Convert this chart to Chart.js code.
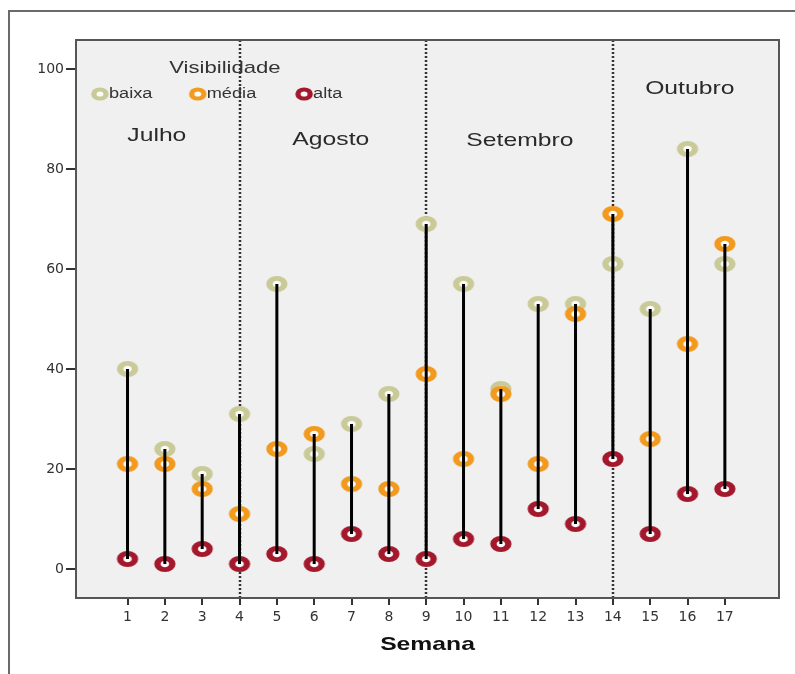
<!DOCTYPE html>
<html><head><meta charset="utf-8">
<script src="https://cdn.jsdelivr.net/npm/chart.js@4.4.1/dist/chart.umd.min.js"></script>
<style>
html,body{margin:0;padding:0;background:#fff;}
#wrap{position:relative;width:795px;height:674px;overflow:hidden;}
#frame{position:absolute;left:8px;top:10px;width:800px;height:700px;border-left:2px solid #6a6a6a;border-top:2px solid #6a6a6a;}
canvas{position:absolute;left:0;top:0;}
</style></head><body>
<div id="wrap"><div id="frame"></div><canvas id="c" width="795" height="674"></canvas></div>
<script>
// ---- data ----
const weeks = [1,2,3,4,5,6,7,8,9,10,11,12,13,14,15,16,17];
const baixa = [40,24,19,31,57,23,29,35,69,57,36,53,53,61,52,84,61];
const media = [21,21,16,11,24,27,17,16,39,22,35,21,51,71,26,45,65];
const alta  = [2,1,4,1,3,1,7,3,2,6,5,12,9,22,7,15,16];
const yTicks = [0,20,40,60,80,100];
const monthDividers = [4,9,14];
const monthLabels = ['Julho','Agosto','Setembro','Outubro'];
const seriesLabels = ['baixa','média','alta'];
const legendTitle = 'Visibilidade';
const xTitle = 'Semana';

// ---- styles ----
const COLORS = {baixa:'#c9ca98', media:'#f29a1e', alta:'#a3182c'};
const SX = 1.3;
const FONT = '"Liberation Sans", Arial, sans-serif';

function ring(color, r, lw){
  const c = document.createElement('canvas');
  const h = Math.ceil(2*(r+lw/2))+2;
  const w = Math.ceil(h*1.33)+2;
  c.width = w; c.height = h;
  const g = c.getContext('2d');
  g.translate(w/2, h/2);
  g.scale(1.33, 1);
  g.beginPath(); g.arc(0,0,r,0,Math.PI*2);
  g.fillStyle = '#fbfbfb'; g.fill();
  g.lineWidth = lw; g.strokeStyle = color; g.stroke();
  return c;
}
const rings = {baixa:ring(COLORS.baixa,5.6,4.8), media:ring(COLORS.media,5.6,4.8), alta:ring(COLORS.alta,5.6,4.8)};
const legendRings = {baixa:ring(COLORS.baixa,4.6,4.0), media:ring(COLORS.media,4.6,4.0), alta:ring(COLORS.alta,4.6,4.0)};

const rangeSegments = weeks.flatMap((w,i)=>[
  {x:w, y:Math.max(baixa[i],media[i],alta[i])},
  {x:w, y:Math.min(baixa[i],media[i],alta[i])},
  {x:w, y:null}
]);
const pts = arr => weeks.map((w,i)=>({x:w, y:arr[i]}));

function sText(ctx, text, x, y, font, align, color){
  ctx.save();
  ctx.translate(x,y); ctx.scale(SX,1);
  ctx.font = font; ctx.textAlign = align; ctx.textBaseline = 'middle';
  ctx.fillStyle = color; ctx.fillText(text,0,0);
  ctx.restore();
}

const decor = {
  id:'decor',
  beforeDraw(chart){
    const {ctx, chartArea:a} = chart;
    ctx.save(); ctx.fillStyle='#f0f0f0';
    ctx.fillRect(a.left,a.top,a.right-a.left,a.bottom-a.top); ctx.restore();
  },
  beforeDatasetsDraw(chart){
    const {ctx, chartArea:a, scales:{x}} = chart;
    ctx.save(); ctx.strokeStyle='#333'; ctx.lineWidth=2.5; ctx.setLineDash([2,2]);
    monthDividers.forEach(v=>{
      const px = Math.round(x.getPixelForValue(v));
      ctx.beginPath(); ctx.moveTo(px,a.top); ctx.lineTo(px,a.bottom); ctx.stroke();
    });
    ctx.restore();
    // annotations
    const o = chart.options.plugins.decor;
    const X = v=>x.getPixelForValue(v), Y = v=>chart.scales.y.getPixelForValue(v);
    sText(ctx, legendTitle, X(o.title[0]), Y(o.title[1]), '17px '+FONT, 'center', '#333');
    const keys = ['baixa','media','alta'];
    keys.forEach((k,i)=>{
      const cx = X(o.legend[i]), cy = Y(o.legendY);
      const im = legendRings[k];
      ctx.drawImage(im, cx-im.width/2, cy-im.height/2);
      sText(ctx, seriesLabels[i], cx+9, cy, '14px '+FONT, 'left', '#333');
    });
    monthLabels.forEach((m,i)=>{
      sText(ctx, m, X(o.months[i][0]), Y(o.months[i][1]), '19px '+FONT, 'center', '#2a2a2a');
    });
  },
  afterDraw(chart){
    const {ctx, chartArea:a} = chart;
    ctx.save(); ctx.strokeStyle='#555'; ctx.lineWidth=2;
    ctx.strokeRect(a.left,a.top,a.right-a.left,a.bottom-a.top);
    ctx.restore();
    sText(ctx, xTitle, (a.left+a.right)/2, 645, 'bold 19px '+FONT, 'center', '#111');
  }
};

new Chart(document.getElementById('c'), {
  type:'scatter',
  data:{datasets:[
    {label:'range', data:rangeSegments, showLine:true, spanGaps:false, borderColor:'#000', borderWidth:3, pointRadius:0, order:0},
    {label:seriesLabels[2], data:pts(alta), pointStyle:rings.alta, pointRadius:8, order:1},
    {label:seriesLabels[1], data:pts(media), pointStyle:rings.media, pointRadius:8, order:2},
    {label:seriesLabels[0], data:pts(baixa), pointStyle:rings.baixa, pointRadius:8, order:3}
  ]},
  options:{
    responsive:false, animation:false, devicePixelRatio:1,
    layout:{padding:{top:40,right:16,left:0,bottom:0}},
    plugins:{
      legend:{display:false}, tooltip:{enabled:false},
      decor:{
        title:[3.61,100.2],
        legend:[0.26,2.88,5.73], legendY:95,
        months:[[1.785,86.6],[6.445,85.8],[11.51,85.6],[16.06,96]]
      }
    },
    scales:{
      x:{type:'linear', min:-0.38, max:18.45,
        afterBuildTicks:s=>{s.ticks = weeks.map(v=>({value:v}));},
        afterFit:s=>{s.height = 76;},
        ticks:{autoSkip:false, maxRotation:0, padding:4, color:'#333', font:{family:'"DejaVu Sans"', size:14}, callback:v=>String(v)},
        grid:{drawOnChartArea:false, drawTicks:true, tickLength:7, color:'#333', lineWidth:2},
        border:{display:false}
      },
      y:{type:'linear', min:-5.8, max:105.8,
        afterBuildTicks:s=>{s.ticks = yTicks.map(v=>({value:v}));},
        afterFit:s=>{s.width = 76;},
        ticks:{padding:2, color:'#333', font:{family:'"DejaVu Sans"', size:14}, callback:v=>String(v)},
        grid:{drawOnChartArea:false, drawTicks:true, tickLength:10, color:'#333', lineWidth:2},
        border:{display:false}
      }
    }
  },
  plugins:[decor]
});
</script>
</body></html>
